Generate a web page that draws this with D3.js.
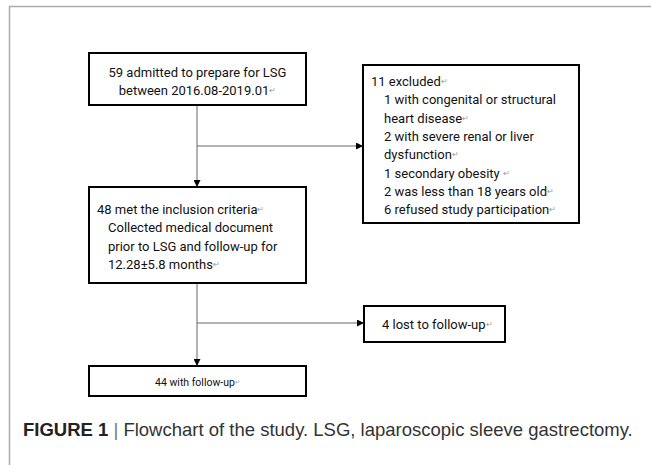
<!DOCTYPE html>
<html>
<head>
<meta charset="utf-8">
<script src="https://cdn.jsdelivr.net/npm/d3@7"></script>
<style>
  body { margin: 0; background: #fff; }
  svg { display: block; }
</style>
</head>
<body>
<script>
// Counts of the study flow
var admitted = 59;
var period = "2016.08-2019.01";
var excludedTotal = 11;
var excludedCounts = [1, 2, 1, 2, 6];
var excludedReasons = [
    ["with congenital or structural", "heart disease"],
    ["with severe renal or liver", "dysfunction"],
    ["secondary obesity  "],
    ["was less than 18 years old"],
    ["refused study participation"]
];
var included = 48;
var followMonths = "12.28\u00b15.8";
var lost = 4;
var followedUp = 44;
var captionLabel = "FIGURE 1";
var captionText = "Flowchart of the study. LSG, laparoscopic sleeve gastrectomy.";

var WIDTH = 651, HEIGHT = 465;
var FONT = "Roboto, 'Noto Sans', sans-serif";
var RET = "\u21b5";
var SIZE = 13;

var svg = d3.select("body").append("svg")
    .attr("width", WIDTH)
    .attr("height", HEIGHT);

svg.append("defs").append("marker")
    .attr("id", "arrow")
    .attr("viewBox", "0 0 10 10")
    .attr("refX", 10).attr("refY", 5)
    .attr("markerWidth", 7).attr("markerHeight", 7)
    .attr("markerUnits", "userSpaceOnUse")
    .attr("orient", "auto")
    .append("path")
    .attr("d", "M0,0L10,5L0,10Z")
    .attr("fill", "#000");

// page frame
svg.append("line").attr("x1", 9).attr("y1", 6.5).attr("x2", WIDTH).attr("y2", 6.5)
    .attr("stroke", "#aaa").attr("stroke-width", 1.5);
svg.append("line").attr("x1", 9.5).attr("y1", 6).attr("x2", 9.5).attr("y2", HEIGHT)
    .attr("stroke", "#aaa").attr("stroke-width", 1.5);

// boxes: x, y, w, h
var boxes = [
    {id: "admit", x: 89, y: 53, w: 217, h: 52},
    {id: "excl", x: 363, y: 65, w: 216, h: 158},
    {id: "incl", x: 89, y: 187, w: 217, h: 96},
    {id: "lost", x: 364, y: 306, w: 141, h: 36},
    {id: "final", x: 89, y: 366, w: 217, h: 30}
];
var byId = {};
boxes.forEach(function(b) { byId[b.id] = b; });

// connectors
var mainX = 197;
var links = [
    [mainX, byId.admit.y + byId.admit.h, mainX, byId.incl.y],
    [mainX, 146, byId.excl.x, 146],
    [mainX, byId.incl.y + byId.incl.h, mainX, byId.final.y],
    [mainX, 323, byId.lost.x, 323]
];
svg.selectAll("line.link").data(links).enter().append("line")
    .attr("class", "link")
    .attr("x1", function(d) { return d[0]; })
    .attr("y1", function(d) { return d[1]; })
    .attr("x2", function(d) { return d[2]; })
    .attr("y2", function(d) { return d[3]; })
    .attr("stroke", "#666")
    .attr("stroke-width", 1)
    .attr("marker-end", "url(#arrow)");

svg.selectAll("rect.box").data(boxes).enter().append("rect")
    .attr("class", "box")
    .attr("x", function(d) { return d.x; })
    .attr("y", function(d) { return d.y; })
    .attr("width", function(d) { return d.w; })
    .attr("height", function(d) { return d.h; })
    .attr("fill", "#fff")
    .attr("stroke", "#000")
    .attr("stroke-width", 2);

function addLine(t, x, y, anchor, size, ret) {
    var el = svg.append("text")
        .attr("x", x).attr("y", y)
        .attr("text-anchor", anchor)
        .attr("font-family", FONT)
        .attr("font-size", size)
        .attr("fill", "#111")
        .attr("dominant-baseline", "central");
    el.append("tspan").text(t);
    if (ret) {
        el.append("tspan").text(RET).attr("font-size", size * 0.6).attr("fill", "#999");
    }
    return el;
}

// box 1
addLine(admitted + " admitted to prepare for LSG", 197.5, 72, "middle", SIZE, false);
addLine("between " + period, 197.5, 90, "middle", SIZE, true);

// excluded box
var ey = 81;
addLine(excludedTotal + " excluded", 371, ey, "start", SIZE, true);
excludedReasons.forEach(function(r, i) {
    r.forEach(function(part, j) {
        ey += 18.3;
        var txt = (j === 0 ? excludedCounts[i] + " " : "") + part;
        addLine(txt, 384, ey, "start", SIZE, j === r.length - 1);
    });
});

// inclusion box
addLine(included + " met the inclusion criteria", 97, 209, "start", SIZE, true);
addLine("Collected medical document", 108, 227, "start", SIZE, false);
addLine("prior to LSG and follow-up for", 108, 245.5, "start", SIZE, false);
addLine(followMonths + " months", 108, 263.5, "start", SIZE, true);

// lost box
addLine(lost + " lost to follow-up", 382, 324, "start", SIZE, true);

// final box
addLine(followedUp + " with follow-up", 197.5, 381.5, "middle", 10.5, true);

// caption
var cap = svg.append("text")
    .attr("x", 23).attr("y", 436)
    .attr("font-family", "'Liberation Sans', Arial, sans-serif")
    .attr("font-size", 18.5)
    .attr("fill", "#333");
cap.append("tspan").text(captionLabel).attr("font-weight", "bold").attr("fill", "#222");
cap.append("tspan").text(" | ").attr("fill", "#777");
cap.append("tspan").text(captionText);
</script>
</body>
</html>
